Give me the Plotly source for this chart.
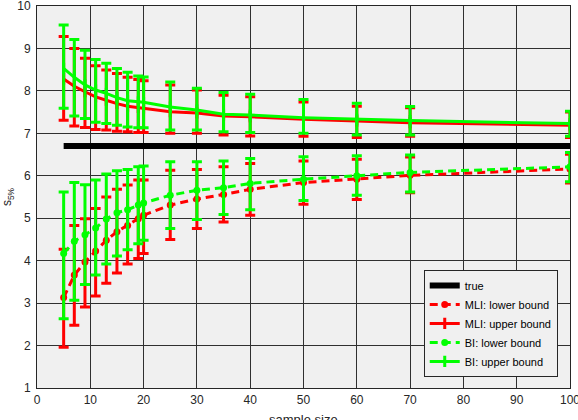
import plotly.graph_objects as go

# sample sizes
n = [5, 7, 9, 11, 13, 15, 17, 19, 20, 25, 30, 35, 40, 50, 60, 70, 100]
true_value = 6.7

# MLI lower bound (estimate, error-bar low, error-bar high)
mli_low = [3.13, 3.66, 3.97, 4.23, 4.48, 4.68, 4.83, 4.99, 5.07, 5.31, 5.45, 5.56, 5.68, 5.84, 5.92, 6.01, 6.16]
mli_low_lo = [1.96, 2.48, 2.91, 3.17, 3.47, 3.71, 3.92, 4.05, 4.17, 4.50, 4.76, 4.91, 5.07, 5.33, 5.44, 5.60, 5.83]
mli_low_hi = [4.27, 4.83, 4.99, 5.23, 5.50, 5.68, 5.78, 5.90, 5.90, 6.13, 6.15, 6.21, 6.29, 6.35, 6.39, 6.44, 6.51]

# MLI upper bound
mli_up = [8.28, 8.11, 7.98, 7.86, 7.78, 7.70, 7.64, 7.61, 7.60, 7.51, 7.48, 7.41, 7.39, 7.33, 7.29, 7.25, 7.19]
mli_up_lo = [7.31, 7.17, 7.14, 7.09, 7.08, 7.05, 7.04, 7.02, 7.02, 7.00, 7.00, 6.96, 6.94, 6.93, 6.90, 6.93, 6.90]
mli_up_hi = [9.28, 9.00, 8.77, 8.59, 8.49, 8.41, 8.32, 8.27, 8.24, 8.14, 8.02, 7.90, 7.86, 7.74, 7.64, 7.60, 7.50]

# BI lower bound
bi_low = [4.17, 4.46, 4.61, 4.77, 4.98, 5.13, 5.20, 5.31, 5.36, 5.54, 5.66, 5.72, 5.82, 5.92, 6.00, 6.08, 6.21]
bi_low_lo = [2.63, 3.07, 3.44, 3.66, 3.92, 4.11, 4.26, 4.40, 4.48, 4.76, 4.97, 5.09, 5.20, 5.42, 5.54, 5.62, 5.86]
bi_low_hi = [5.62, 5.84, 5.79, 5.90, 6.04, 6.12, 6.15, 6.21, 6.23, 6.33, 6.33, 6.35, 6.41, 6.45, 6.47, 6.49, 6.55]

# BI upper bound
bi_up = [8.53, 8.32, 8.14, 8.02, 7.94, 7.84, 7.77, 7.74, 7.73, 7.62, 7.55, 7.45, 7.43, 7.37, 7.33, 7.30, 7.23]
bi_up_lo = [7.59, 7.41, 7.35, 7.26, 7.23, 7.19, 7.15, 7.13, 7.13, 7.08, 7.08, 7.04, 7.02, 7.00, 6.96, 6.96, 6.93]
bi_up_hi = [9.55, 9.21, 8.96, 8.74, 8.65, 8.53, 8.44, 8.35, 8.33, 8.21, 8.06, 7.96, 7.92, 7.80, 7.71, 7.63, 7.52]

x_ticks = [0, 10, 20, 30, 40, 50, 60, 70, 80, 90, 100]
y_ticks = [1, 2, 3, 4, 5, 6, 7, 8, 9, 10]

RED = "#ff0000"
GREEN = "#00ff00"
FONT = "Liberation Sans, Arial, sans-serif"
TXT = "#262626"


def err(y, lo, hi, color):
    return dict(type="data", symmetric=False,
                array=[h - v for v, h in zip(y, hi)],
                arrayminus=[v - l for v, l in zip(y, lo)],
                color=color, thickness=3, width=5)


fig = go.Figure()
fig.add_trace(go.Scatter(x=[n[0], n[-1]], y=[true_value, true_value], mode="lines",
                         line=dict(color="black", width=6), name="true"))
fig.add_trace(go.Scatter(x=n, y=mli_low, mode="lines+markers", name="MLI: lower bound",
                         line=dict(color=RED, width=3, dash="8px,5px"),
                         marker=dict(symbol="circle", size=7, color=RED),
                         error_y=err(mli_low, mli_low_lo, mli_low_hi, RED)))
fig.add_trace(go.Scatter(x=n, y=mli_up, mode="lines+markers", name="MLI: upper bound",
                         line=dict(color=RED, width=3),
                         marker=dict(symbol="line-ns", size=8, color=RED,
                                     line=dict(color=RED, width=3)),
                         error_y=err(mli_up, mli_up_lo, mli_up_hi, RED)))
fig.add_trace(go.Scatter(x=n, y=bi_low, mode="lines+markers", name="BI: lower bound",
                         line=dict(color=GREEN, width=3, dash="8px,5px"),
                         marker=dict(symbol="circle", size=7, color=GREEN),
                         error_y=err(bi_low, bi_low_lo, bi_low_hi, GREEN)))
fig.add_trace(go.Scatter(x=n, y=bi_up, mode="lines+markers", name="BI: upper bound",
                         line=dict(color=GREEN, width=3),
                         marker=dict(symbol="line-ns", size=8, color=GREEN,
                                     line=dict(color=GREEN, width=3)),
                         error_y=err(bi_up, bi_up_lo, bi_up_hi, GREEN)))

axis_common = dict(showgrid=True, gridcolor="#303030", gridwidth=1,
                   showline=True, linecolor=TXT, linewidth=1, mirror=True,
                   zeroline=False, ticks="", ticklabeloverflow="allow",
                   automargin=False,
                   tickfont=dict(family=FONT, size=12, color=TXT))

fig.update_layout(
    width=578, height=420,
    margin=dict(l=37, r=8, t=6, b=32, autoexpand=False),
    paper_bgcolor="white", plot_bgcolor="#f0f0f0",
    font=dict(family=FONT, color=TXT),
    xaxis=dict(range=[0, 100], tickvals=x_ticks, ticklabelstandoff=1, **axis_common),
    yaxis=dict(range=[1, 10], tickvals=y_ticks, ticklabelstandoff=3, **axis_common,
               title=dict(text="s<sub>5%</sub>", font=dict(family=FONT, size=12, color=TXT))),
    annotations=[dict(text="sample size", xref="paper", yref="paper", x=0.5, y=-0.057,
                      xanchor="center", yanchor="top", showarrow=False,
                      font=dict(family=FONT, size=13, color=TXT))],
    showlegend=True,
    legend=dict(x=0.977, y=0.029, xanchor="right", yanchor="bottom",
                bgcolor="#f0f0f0", bordercolor=TXT, borderwidth=1,
                font=dict(family=FONT, size=11, color="#000000"),
                tracegroupgap=0, itemwidth=30),
)

fig.write_html("out.html")
